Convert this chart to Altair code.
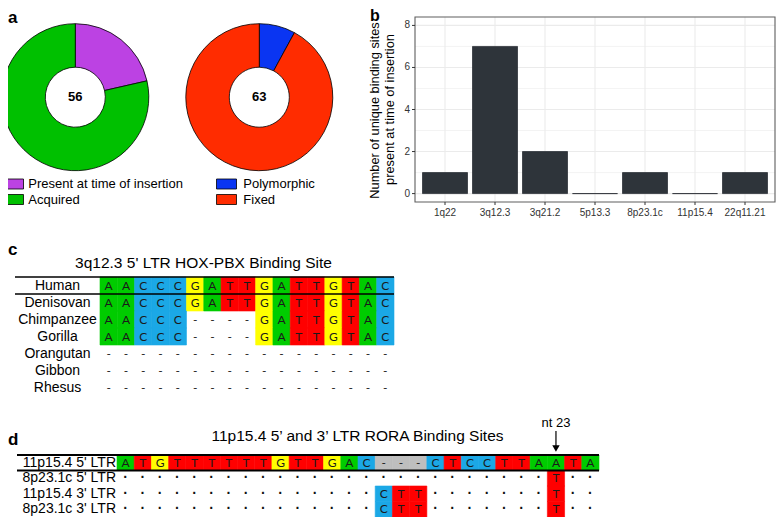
import math
import altair as alt
import pandas as pd

# ---------------- data ----------------
donut_totals = [56, 63]
insertion_labels = ["Present at time of insertion", "Acquired"]
insertion_counts = [12, 44]
fixation_labels = ["Polymorphic", "Fixed"]
fixation_counts = [5, 58]

loci = ["1q22", "3q12.3", "3q21.2", "5p13.3", "8p23.1c", "11p15.4", "22q11.21"]
site_counts = [1, 7, 2, 0, 1, 0, 1]
y_tick_values = [0, 2, 4, 6, 8]
y_minor_values = [1, 3, 5, 7]

c_title = "3q12.3 5' LTR HOX-PBX Binding Site"
c_species = ["Human", "Denisovan", "Chimpanzee", "Gorilla", "Orangutan", "Gibbon", "Rhesus"]
c_seqs = [
    "AACCCGATTGATTGTAC",
    "AACCCGATTGATTGTAC",
    "AACCC----GATTGTAC",
    "AACCC----GATTGTAC",
    "-----------------",
    "-----------------",
    "-----------------",
]

d_title = "11p15.4 5\u2019 and 3\u2019 LTR RORA Binding Sites"
d_names = ["11p15.4 5' LTR", "8p23.1c 5' LTR", "11p15.4 3' LTR", "8p23.1c 3' LTR"]
d_seqs = [
    "ATGTTTTTTGTTGAC---CTCCTTAATA",
    "........................." + "T..",
    "..............." + "CTT" + "......." + "T..",
    "..............." + "CTT" + "......." + "T..",
]
d_marked_col = 25

# ---------------- style ----------------
PIE_COLORS = {
    "Present at time of insertion": "#BC42E3",
    "Acquired": "#00C000",
    "Polymorphic": "#0A35F2",
    "Fixed": "#FF2C00",
}
BASE_COLORS = {"A": "#00CC00", "C": "#1BA8E6", "G": "#FFFF00", "T": "#FF0000"}
GAP_GRAY = "#BEBEBE"
BAR_COLOR = "#2E343A"
GRID = "#EBEBEB"
FONT = "Liberation Sans"
SEQ_FONT = "Lato"
W, H = 768, 509


def S(domain, rng):
    return alt.Scale(domain=domain, range=rng, nice=False, zero=False)


def txt(t, x, y, **kw):
    return alt.Chart(pd.DataFrame({"t": [t]})).mark_text(font=FONT, **kw).encode(
        text="t:N", x=alt.value(x), y=alt.value(y))


layers = []

# ---------------- panel a : donuts ----------------
rows = []
for k, (labs, cnts) in enumerate([(insertion_labels, insertion_counts),
                                   (fixation_labels, fixation_counts)]):
    for i, (lab, cnt) in enumerate(zip(labs, cnts)):
        rows.append(dict(k=k, r=i, label=lab, n=cnt, color=PIE_COLORS[lab], cy=0))
pie_df = pd.DataFrame(rows)
tot_df = pd.DataFrame(dict(k=[0, 1], total=donut_totals, cy=[0, 0]))

PX = S([0, 1], [67.3, 251.3])
PY = S([0, 1], [89.2, 189.2])

arcs = alt.Chart(pie_df).transform_joinaggregate(
    total="sum(n)", groupby=["k"]
).transform_window(
    cum="sum(n)", groupby=["k"], sort=[alt.SortField("r")]
).transform_calculate(
    t0="(datum.cum - datum.n) / datum.total", t1="datum.cum / datum.total"
).mark_arc(outerRadius=73.5, innerRadius=30, stroke="black", strokeWidth=0.8).encode(
    theta=alt.Theta("t0:Q", scale=alt.Scale(domain=[0, 1], range=[0, 2 * math.pi]), stack=False),
    theta2="t1:Q",
    x=alt.X("k:Q", scale=PX, axis=None),
    y=alt.Y("cy:Q", scale=PY, axis=None),
    color=alt.Color("color:N", scale=None),
)
layers.append(arcs)

center_txt = alt.Chart(tot_df).mark_text(font=FONT, fontSize=13, fontWeight="bold", color="black").encode(
    x=alt.X("k:Q", scale=PX, axis=None),
    y=alt.Y("cy:Q", scale=PY, axis=None),
    text="total:Q",
)
layers.append(center_txt)

LSX = S([0, 1], [5.5, 218.5])
LTX = S([0, 1], [20.3, 235.3])
LY = S([0, 1], [176, 191.5])
swatches = alt.Chart(pie_df).mark_tick(orient="horizontal", size=20, thickness=10, opacity=1,
                                       stroke="black", strokeWidth=0.8).encode(
    x=alt.X("k:Q", scale=LSX, axis=None),
    y=alt.Y("r:Q", scale=LY, axis=None),
    color=alt.Color("color:N", scale=None),
)
layers.append(swatches)
leg_txt = alt.Chart(pie_df).mark_text(font=FONT, fontSize=13, align="left", baseline="middle",
                                      color="black").encode(
    x=alt.X("k:Q", scale=LTX, axis=None),
    y=alt.Y("r:Q", scale=LY, axis=None),
    text="label:N",
)
layers.append(leg_txt)

# ---------------- panel b : bar chart ----------------
n_loc = len(loci)
b_df = pd.DataFrame(dict(locus=loci, idx=list(range(1, n_loc + 1)), v=site_counts))
XLO, XHI = 0.4, n_loc + 0.6
YLO, YHI = -0.4, 8.4
XB = S([XLO, XHI], [407, 767])
YB = S([YLO, YHI], [194, 9])

hgrid_major = alt.Chart(pd.DataFrame(dict(v=y_tick_values))).transform_calculate(
    a=str(XLO), b=str(XHI)).mark_rule(color=GRID, strokeWidth=1.1).encode(
    x=alt.X("a:Q", scale=XB, axis=None), x2="b:Q", y=alt.Y("v:Q", scale=YB, axis=None))
hgrid_minor = alt.Chart(pd.DataFrame(dict(v=y_minor_values))).transform_calculate(
    a=str(XLO), b=str(XHI)).mark_rule(color=GRID, strokeWidth=0.6).encode(
    x=alt.X("a:Q", scale=XB, axis=None), x2="b:Q", y=alt.Y("v:Q", scale=YB, axis=None))
vgrid = alt.Chart(b_df).transform_calculate(a=str(YLO), b=str(YHI)).mark_rule(
    color=GRID, strokeWidth=1.1).encode(
    x=alt.X("idx:Q", scale=XB, axis=None), y=alt.Y("a:Q", scale=YB, axis=None), y2="b:Q")
layers += [hgrid_major, hgrid_minor, vgrid]

bars = alt.Chart(b_df).transform_calculate(
    lo="datum.idx - 0.45", hi="datum.idx + 0.45", z="0"
).mark_rect(fill=BAR_COLOR, stroke=BAR_COLOR, strokeWidth=0.8).encode(
    x=alt.X("lo:Q", scale=XB, axis=None), x2="hi:Q",
    y=alt.Y("z:Q", scale=YB, axis=None), y2="v:Q",
)
layers.append(bars)

frame = alt.Chart(pd.DataFrame(dict(a=[XLO], b=[XHI], c=[YLO], d=[YHI]))).mark_rect(
    fillOpacity=0, stroke="#5E5E5E", strokeWidth=1.1).encode(
    x=alt.X("a:Q", scale=XB, axis=None), x2="b:Q",
    y=alt.Y("c:Q", scale=YB, axis=None), y2="d:Q")
layers.append(frame)

yt_df = pd.DataFrame(dict(v=y_tick_values, a=[XLO] * len(y_tick_values)))
yticks = alt.Chart(yt_df).mark_tick(orient="horizontal", size=3, thickness=1, color="#333333",
                                    opacity=1, xOffset=-1.5).encode(
    x=alt.X("a:Q", scale=XB, axis=None), y=alt.Y("v:Q", scale=YB, axis=None))
ylabels = alt.Chart(yt_df).mark_text(font=FONT, fontSize=10, align="right", baseline="middle",
                                     dx=-5, color="#333333").encode(
    x=alt.X("a:Q", scale=XB, axis=None), y=alt.Y("v:Q", scale=YB, axis=None), text="v:Q")
xticks = alt.Chart(b_df).transform_calculate(c=str(YLO)).mark_tick(
    orient="vertical", size=3, thickness=1, color="#333333", opacity=1, yOffset=1.5).encode(
    x=alt.X("idx:Q", scale=XB, axis=None), y=alt.Y("c:Q", scale=YB, axis=None))
xlabels = alt.Chart(b_df).transform_calculate(c=str(YLO)).mark_text(
    font=FONT, fontSize=10, baseline="middle", dy=11, color="#333333").encode(
    x=alt.X("idx:Q", scale=XB, axis=None), y=alt.Y("c:Q", scale=YB, axis=None), text="locus:N")
layers += [yticks, ylabels, xticks, xlabels]

layers.append(txt("Number of unique binding sites", 367, 102.5, fontSize=12.8, angle=270,
                  baseline="middle", color="black"))
layers.append(txt("present at time of insertion", 382, 101.5, fontSize=12.8, angle=270,
                  baseline="middle", color="black"))

# ---------------- panel c : alignment ----------------
nc = len(c_seqs[0])
C_LEFT, C_CELL0, C_RIGHT = 7, 92, 386
c_cw = (C_RIGHT - C_CELL0) / nc
C_LO = -(C_CELL0 - C_LEFT) / c_cw
XC = S([C_LO, nc], [C_LEFT, C_RIGHT])
YC = S([0, len(c_species)], [269, 388])

c_rows = []
for r, seq in enumerate(c_seqs):
    for c, ch in enumerate(seq):
        c_rows.append(dict(r=r, r1=r + 1, ry=r + 0.5, c=c, c1=c + 1, cx=c + 0.5, ch=ch,
                           color=BASE_COLORS.get(ch, "")))
c_df = pd.DataFrame(c_rows)

c_cells = alt.Chart(c_df[c_df["color"] != ""]).mark_rect(strokeWidth=0.6).encode(
    x=alt.X("c:Q", scale=XC, axis=None), x2="c1:Q",
    y=alt.Y("r:Q", scale=YC, axis=None), y2="r1:Q",
    fill=alt.Fill("color:N", scale=None), stroke=alt.Stroke("color:N", scale=None))
c_letters = alt.Chart(c_df).mark_text(font=SEQ_FONT, fontSize=12, baseline="middle",
                                      color="#1A1A1A").encode(
    x=alt.X("cx:Q", scale=XC, axis=None), y=alt.Y("ry:Q", scale=YC, axis=None), text="ch:N")
c_lab_df = pd.DataFrame(dict(name=c_species, ry=[i + 0.5 for i in range(len(c_species))],
                             lx=[C_LO / 2] * len(c_species)))
c_labels = alt.Chart(c_lab_df).mark_text(font=FONT, fontSize=14, baseline="middle",
                                         color="black").encode(
    x=alt.X("lx:Q", scale=XC, axis=None), y=alt.Y("ry:Q", scale=YC, axis=None), text="name:N")
c_lines = alt.Chart(pd.DataFrame(dict(y=[0, 1], a=[C_LO, C_LO], b=[nc, nc]))).mark_rule(
    color="black", strokeWidth=1.5).encode(
    x=alt.X("a:Q", scale=XC, axis=None), x2="b:Q", y=alt.Y("y:Q", scale=YC, axis=None))
layers += [c_cells, c_letters, c_labels, c_lines]
layers.append(txt(c_title, 195.5, 255, fontSize=15.5, baseline="middle", color="black"))

# ---------------- panel d : alignment ----------------
nd = len(d_seqs[0])
D_LEFT, D_CELL0, D_RIGHT = 9, 109, 591
d_cw = (D_RIGHT - D_CELL0) / nd
D_LO = -(D_CELL0 - D_LEFT) / d_cw
XD = S([D_LO, nd], [D_LEFT, D_RIGHT])
YD = S([0, len(d_names)], [447, 509])

d_rows = []
for r, seq in enumerate(d_seqs):
    for c, ch in enumerate(seq):
        if ch in BASE_COLORS:
            col = BASE_COLORS[ch]
        elif ch == "-":
            col = GAP_GRAY
        else:
            col = ""
        d_rows.append(dict(r=r, r1=r + 1, ry=r + 0.5, c=c, c1=c + 1, cx=c + 0.5,
                           ch=("\u00b7" if ch == "." else ch), color=col))
d_df = pd.DataFrame(d_rows)

d_cells = alt.Chart(d_df[d_df["color"] != ""]).mark_rect(strokeWidth=0.6).encode(
    x=alt.X("c:Q", scale=XD, axis=None), x2="c1:Q",
    y=alt.Y("r:Q", scale=YD, axis=None), y2="r1:Q",
    fill=alt.Fill("color:N", scale=None), stroke=alt.Stroke("color:N", scale=None))
d_letters = alt.Chart(d_df[d_df["ch"] != "\u00b7"]).mark_text(
    font=SEQ_FONT, fontSize=12, baseline="middle", color="#1A1A1A").encode(
    x=alt.X("cx:Q", scale=XD, axis=None), y=alt.Y("ry:Q", scale=YD, axis=None), text="ch:N")
d_dots = alt.Chart(d_df[d_df["ch"] == "\u00b7"]).mark_text(
    font=FONT, fontSize=14, fontWeight="bold", baseline="middle", color="#111111").encode(
    x=alt.X("cx:Q", scale=XD, axis=None), y=alt.Y("ry:Q", scale=YD, axis=None), text="ch:N")
d_lab_df = pd.DataFrame(dict(name=d_names, ry=[i + 0.5 for i in range(len(d_names))],
                             lx=[0] * len(d_names)))
d_labels = alt.Chart(d_lab_df).mark_text(font=FONT, fontSize=14, baseline="middle", align="right",
                                         dx=-1, color="black").encode(
    x=alt.X("lx:Q", scale=XD, axis=None), y=alt.Y("ry:Q", scale=YD, axis=None), text="name:N")
d_lines = alt.Chart(pd.DataFrame(dict(y=[0, 1], a=[D_LO, D_LO], b=[nd, nd]))).mark_rule(
    color="black", strokeWidth=2).encode(
    x=alt.X("a:Q", scale=XD, axis=None), x2="b:Q", y=alt.Y("y:Q", scale=YD, axis=None))
layers += [d_cells, d_letters, d_dots, d_labels, d_lines]

nt_pos = sum(1 for ch in d_seqs[0][:d_marked_col + 1] if ch != "-")
mark_df = pd.DataFrame(dict(cx=[d_marked_col + 0.5], label=[f"nt {nt_pos}"]))
arrow_line = alt.Chart(mark_df).mark_rule(color="black", strokeWidth=1.2).encode(
    x=alt.X("cx:Q", scale=XD, axis=None), y=alt.value(423), y2=alt.value(439))
arrow_head = alt.Chart(mark_df).mark_point(shape="triangle-down", filled=True, size=55,
                                           color="black", opacity=1).encode(
    x=alt.X("cx:Q", scale=XD, axis=None), y=alt.value(440.5))
arrow_txt = alt.Chart(mark_df).mark_text(font=FONT, fontSize=13, baseline="middle",
                                         color="black").encode(
    x=alt.X("cx:Q", scale=XD, axis=None), y=alt.value(415), text="label:N")
layers += [arrow_line, arrow_head, arrow_txt]
layers.append(txt(d_title, 349.5, 428, fontSize=15.5, baseline="middle", color="black"))

# ---------------- panel letters ----------------
for letter, x, y, fs in [("a", 0, 14.7, 17), ("b", 362, 12.5, 16), ("c", 0, 247, 17), ("d", 0, 437, 17)]:
    layers.append(txt(letter, x, y, fontSize=fs, fontWeight="bold", align="left",
                      baseline="alphabetic", color="black"))

chart = alt.layer(*layers).resolve_scale(
    x="independent", y="independent"
).properties(
    width=W, height=H, padding=0, autosize=alt.AutoSizeParams(type="none"),
    background="white",
).configure_view(stroke=None)

chart.save("out.html", embed_options={"renderer": "svg", "actions": False})
